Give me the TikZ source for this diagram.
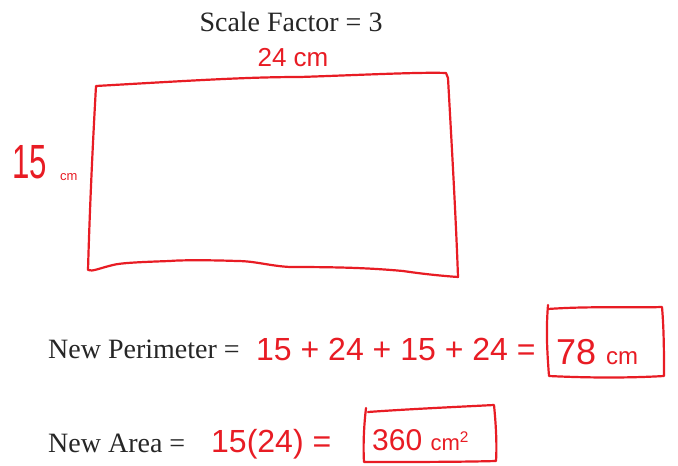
\documentclass[tikz,border=0pt]{standalone}
\usepackage{fontspec}
\setmainfont{Liberation Serif}
\newfontfamily\handfont{Liberation Sans}
\definecolor{handred}{RGB}{232,28,36}
\begin{document}
\begin{tikzpicture}[x=1pt,y=-1pt,
  printed/.style={font=\fontsize{28}{32}\selectfont, text=black!85, inner sep=0pt},
  hand/.style={font=\handfont\fontsize{#1}{#1}\selectfont, text=handred, inner sep=0pt},
  pen/.style={draw=handred, line width=2.2pt, line cap=round, line join=round}]
\useasboundingbox[fill=white] (0,0) rectangle (678,466);
% title
\node[printed] (title) at (291,22) {Scale Factor = 3};
% rectangle (hand drawn)
\coordinate (tl) at (96,86);
\coordinate (tr) at (446,73);
\coordinate (br) at (458,277);
\coordinate (bl) at (88,270);
\draw[pen] (tl) .. controls (200,80) and (250,77) .. (300,77) .. controls (360,75) and (420,72) .. (tr)
  -- (448,78) .. controls (452,150) and (456,220) .. (br)
  .. controls (430,275) and (410,272) .. (403,271)
  .. controls (370,268) and (340,267) .. (290,267)
  .. controls (270,266) and (255,261) .. (237,261)
  .. controls (210,260) and (180,260) .. (170,261)
  .. controls (140,262) and (120,263) .. (113,265)
  .. controls (100,268) and (92,272) .. (bl)
  .. controls (90,200) and (93,140) .. (tl);
% side labels
\node[hand=26] (l24) at (293,58) {24 cm};
\node[hand=48, anchor=base west, xscale=0.65, transform shape] (l15) at (12,178) {15};
\node[hand=13, anchor=base west] (l15cm) at (60,180) {cm};
% perimeter line
\node[printed, anchor=base west] (per) at (48,358) {New Perimeter =};
\node[hand=32, anchor=base west] (perx) at (256,360) {15 + 24 + 15 + 24 =};
\node[hand=36, anchor=base west] (per78) at (556,364) {78 {\fontsize{24}{24}\selectfont cm}};
\draw[pen] (548,309) .. controls (590,306) and (630,308) .. (662,307)
  .. controls (664,330) and (664,355) .. (664,376)
  .. controls (630,378) and (590,378) .. (549,376)
  .. controls (547,350) and (546,330) .. (548,305);
% area line
\node[printed, anchor=base west] (area) at (48,452) {New Area =};
\node[hand=32, anchor=base west] (areax) at (211,452) {15(24) =};
\node[hand=30, anchor=base west] (area360) at (372,450) {360 {\fontsize{22}{22}\selectfont cm\textsuperscript{2}}};
\draw[pen] (368,412) .. controls (410,409) and (455,407) .. (494,405)
  .. controls (496,425) and (497,445) .. (496,461)
  .. controls (460,462) and (410,462) .. (364,462)
  .. controls (363,445) and (364,425) .. (366,408);
\end{tikzpicture}
\end{document}
